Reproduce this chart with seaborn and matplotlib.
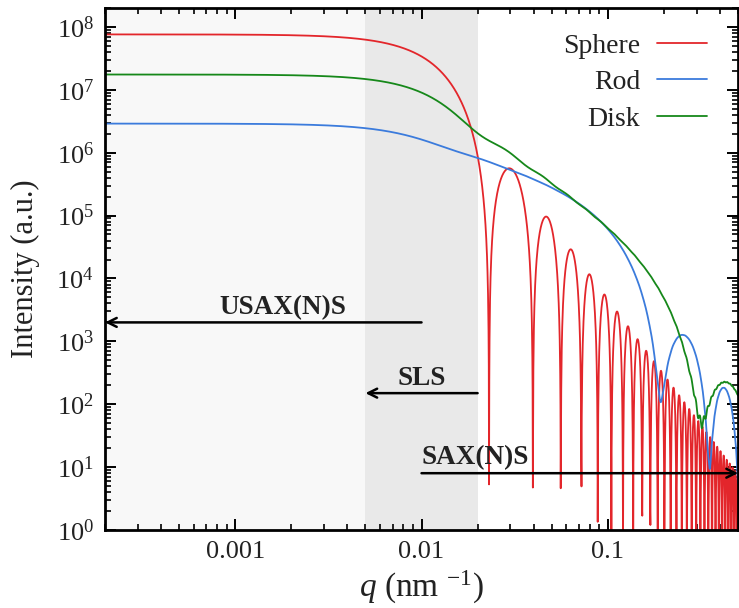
import numpy as np
import pandas as pd
import matplotlib
matplotlib.use("Agg")
import matplotlib.pyplot as plt
import matplotlib.ticker as mticker
import seaborn as sns

# --- model parameters for each particle shape ---
SHAPES = ["Sphere", "Rod", "Disk"]
FORWARD_INTENSITY = [7.6e7, 2.9e6, 1.75e7]   # I(q -> 0), a.u.
RADIUS_NM = [195.0, 20.0, 200.0]             # sphere / cylinder radius
LENGTH_NM = [0.0, 500.0, 20.0]               # cylinder length (rod) or thickness (disk)
COLORS = ["#e3262b", "#3b7bdc", "#16881a"]

# --- q range and technique windows ---
Q_RANGE = [2e-4, 0.5]
BAND_EDGES = [2e-4, 0.005, 0.02]
TECHNIQUES = ["USAX(N)S", "SLS", "SAX(N)S"]
ARROW_FROM = [0.01, 0.02, 0.01]
ARROW_TO = [2e-4, 0.005, 0.5]
ARROW_LEVEL = [2000, 150, 8]
LABEL_Q = [1.8e-3, 0.01, 0.01]
LABEL_HA = ["center", "center", "left"]

X_TICKS = [0.001, 0.01, 0.1]
X_TICK_LABELS = ["0.001", "0.01", "0.1"]


def bessel_j1(x):
    x = np.asarray(x, dtype=float)
    ax = np.abs(x)
    out = np.empty_like(ax)
    s = ax < 8.0
    y = x[s] ** 2
    a1 = x[s] * (72362614232.0 + y * (-7895059235.0 + y * (242396853.1 + y * (
        -2972611.439 + y * (15704.48260 + y * (-30.16036606))))))
    a2 = 144725228442.0 + y * (2300535178.0 + y * (18583304.74 + y * (
        99447.43394 + y * (376.9991397 + y))))
    out[s] = a1 / a2
    b = ~s
    axb = ax[b]
    z = 8.0 / axb
    y = z * z
    xx = axb - 2.356194491
    p1 = 1.0 + y * (0.183105e-2 + y * (-0.3516396496e-4 + y * (0.2457520174e-5 + y * (-0.240337019e-6))))
    p2 = 0.04687499995 + y * (-0.2002690873e-3 + y * (0.8449199096e-5 + y * (-0.88228987e-6 + y * 0.105787412e-6)))
    out[b] = np.sign(x[b]) * np.sqrt(0.636619772 / axb) * (np.cos(xx) * p1 - z * np.sin(xx) * p2)
    return out


def sphere_pq(q, r):
    x = q * r
    f = 3.0 * (np.sin(x) - x * np.cos(x)) / x ** 3
    return f ** 2


def cylinder_pq(q, r, length, n_angle=300):
    alpha = (np.arange(n_angle) + 0.5) * (np.pi / 2) / n_angle
    sa, ca = np.sin(alpha), np.cos(alpha)
    qq = q[:, None]
    xr = qq * r * sa[None, :]
    xl = qq * length * ca[None, :] / 2.0
    cross = 2.0 * bessel_j1(xr) / xr
    axial = np.sinc(xl / np.pi)
    amp = cross * axial
    return (amp ** 2 * sa[None, :]).sum(axis=1) * (np.pi / 2) / n_angle


q = np.geomspace(Q_RANGE[0], Q_RANGE[1], 2500)
frames = []
for name, i0, r, ln in zip(SHAPES, FORWARD_INTENSITY, RADIUS_NM, LENGTH_NM):
    if name == "Sphere":
        pq = sphere_pq(q, r)
    else:
        pq = cylinder_pq(q, r, ln)
    frames.append(pd.DataFrame({"q": q, "I": i0 * pq, "shape": name}))
data = pd.concat(frames, ignore_index=True)

sns.set_theme(style="ticks")
plt.rcParams["font.family"] = ["Liberation Serif", "DejaVu Serif"]
plt.rcParams["mathtext.fontset"] = "custom"
plt.rcParams["mathtext.rm"] = "Liberation Serif"
plt.rcParams["mathtext.it"] = "Liberation Serif:italic"
plt.rcParams["mathtext.bf"] = "Liberation Serif:bold"

fig = plt.figure(figsize=(7.39, 6.08), dpi=100)
ax = fig.add_axes([0.1421, 0.1283, 0.8566, 0.8586])

# measurement windows
ax.axvspan(BAND_EDGES[0], BAND_EDGES[1], color="#f8f8f8", zorder=0, lw=0)
ax.axvspan(BAND_EDGES[1], BAND_EDGES[2], color="#e9e9e9", zorder=0, lw=0)

sns.lineplot(data=data, x="q", y="I", hue="shape", hue_order=SHAPES,
             palette=COLORS, estimator=None, errorbar=None, lw=1.3, ax=ax,
             zorder=2)

ax.set_xscale("log")
ax.set_yscale("log")
ax.set_xlim(*Q_RANGE)
ax.set_ylim(1, 2e8)

for name, q0, q1, lvl, lq, ha in zip(TECHNIQUES, ARROW_FROM, ARROW_TO,
                                     ARROW_LEVEL, LABEL_Q, LABEL_HA):
    ax.annotate("", xy=(q1, lvl), xytext=(q0, lvl),
                arrowprops=dict(arrowstyle="->", color="black", lw=1.8,
                                mutation_scale=16, shrinkA=0, shrinkB=0),
                zorder=3)
    ax.text(lq, lvl * 1.1, name, ha=ha, va="bottom", fontsize=19.5,
            fontweight="bold", color="#222222", zorder=3)

ax.xaxis.set_major_locator(mticker.FixedLocator(X_TICKS))
ax.xaxis.set_major_formatter(mticker.FixedFormatter(X_TICK_LABELS))
ax.xaxis.set_minor_locator(mticker.LogLocator(base=10, subs=np.arange(2, 10), numticks=20))
ax.xaxis.set_minor_formatter(mticker.NullFormatter())
ax.yaxis.set_major_locator(mticker.LogLocator(base=10, numticks=20))
ax.yaxis.set_minor_locator(mticker.LogLocator(base=10, subs=np.arange(2, 10), numticks=20))
ax.yaxis.set_minor_formatter(mticker.NullFormatter())

ax.tick_params(which="both", direction="in", top=True, right=True,
               color="black", labelsize=19, labelcolor="#222222")
ax.tick_params(which="major", length=8, width=1.4, pad=8)
ax.tick_params(which="minor", length=4.5, width=1.2)
for sp in ax.spines.values():
    sp.set_linewidth(2)
    sp.set_color("black")

ax.set_xlabel(r"$q$ (nm $^{-1}$)", fontsize=24, color="#222222", labelpad=4)
ax.set_ylabel("Intensity (a.u.)", fontsize=22, color="#222222", labelpad=12)

ax.legend(loc="upper right", bbox_to_anchor=(0.968, 0.973), frameon=False,
          markerfirst=False, fontsize=20, handlelength=1.8, labelspacing=0.4,
          borderaxespad=0.0, handletextpad=0.6, labelcolor="#222222")

fig.savefig("out.png", dpi=100)
